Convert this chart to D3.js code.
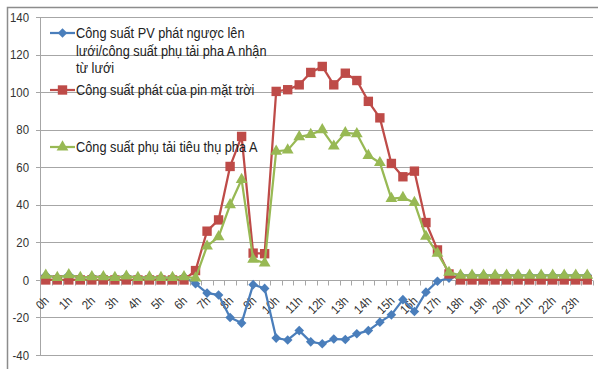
<!DOCTYPE html>
<html>
<head>
<meta charset="utf-8">
<script src="https://cdn.jsdelivr.net/npm/d3@7"></script>
<style>
  body { margin: 0; background: #fff; }
  svg { display: block; }
  text { font-family: "Liberation Sans Narrow", "Arial Narrow", "Liberation Sans", Arial, sans-serif; }
</style>
</head>
<body>
<svg id="chart" width="598" height="369"></svg>
<script>
// Half-hour slots across one day (48 readings), labelled on the hour
const hourLabels = ["0h","1h","2h","3h","4h","5h","6h","7h","8h","9h","10h","11h",
                    "12h","13h","14h","15h","16h","17h","18h","19h","20h","21h","22h","23h"];
const slots = d3.range(48);

const yTicks = [-40, -20, 0, 20, 40, 60, 80, 100, 120, 140];

// Power exchanged with the grid (negative = PV feeding back into the grid)
const gridPower = [
  2.5, 1.3, 2.7, 1.3, 1.7, 1.7, 1.3, 2.0, 1.3, 1.5, 1.3, 1.3, 1.7,
  -2, -7, -8, -20, -23, -2.5, -4.5, -31, -32, -27, -33, -34, -31.5,
  -31.7, -28.7, -27, -22.5, -18.6, -10.5, -16.8, -6.5, -0.7, 1,
  2.5, 2.5, 2.5, 2.5, 2.5, 2.5, 2.5, 2.5, 2.5, 2.5, 2.5, 2.5
];
// Solar panel output
const pvPower = [
  0, 0, 0, 0, 0, 0, 0, 0, 0, 0, 0, 0, 0,
  5, 26, 32, 60.5, 76.5, 14.3, 14, 100.5, 101.4, 104, 110.6, 113.8, 104,
  110.2, 106.3, 95.2, 86.4, 62.1, 55, 58, 30.6, 16, 3.2,
  0, 0, 0, 0, 0, 0, 0, 0, 0, 0, 0, 0
];
// Phase A load consumption
const loadPower = [
  2.5, 1.3, 2.7, 1.3, 1.7, 1.7, 1.3, 2.0, 1.3, 1.5, 1.3, 1.3, 1.7,
  1, 18, 23, 40, 53.5, 11, 9, 68.6, 69.2, 76.3, 77.5, 80, 71.3,
  78.4, 77.9, 66.3, 62.5, 43.4, 43.9, 41.2, 23.2, 14.2, 4,
  2.5, 2.5, 2.5, 2.5, 2.5, 2.5, 2.5, 2.5, 2.5, 2.5, 2.5, 2.5
];

const seriesNames = [
  ["Công suất PV phát ngược lên", "lưới/công suất phụ tải pha A nhận", "từ lưới"],
  ["Công suất phát của pin mặt trời"],
  ["Công suất phụ tải tiêu thụ pha A"]
];
const seriesColors = ["#4a7ebb", "#be4b48", "#98b954"];
const seriesValues = [gridPower, pvPower, loadPower];

// Marker shapes: diamond (rotated square), square, triangle
const markers = [
  { sym: d3.symbol().type(d3.symbolSquare).size(46), rot: 45 },
  { sym: d3.symbol().type(d3.symbolSquare).size(88), rot: 0 },
  { sym: d3.symbol().type(d3.symbolTriangle).size(60), rot: 0 }
];

const svg = d3.select("#chart");
const plot = { left: 40, right: 593, top: 17.3, bottom: 355 };

const x = d3.scaleBand().domain(slots).range([plot.left, plot.right]);
const y = d3.scaleLinear().domain([-40, 140]).range([plot.bottom, plot.top]);
const cx = i => x(i) + x.bandwidth() / 2;

// Outer chart frame (top and left edges visible)
svg.append("path")
  .attr("d", "M7.5,369 V7.5 H598")
  .attr("fill", "none").attr("stroke", "#8c8c8c").attr("stroke-width", 1.5);

// Horizontal gridlines
svg.append("g")
  .selectAll("line").data(yTicks).join("line")
  .attr("x1", plot.left - 4).attr("x2", plot.right)
  .attr("y1", d => Math.round(y(d)) + 0.5).attr("y2", d => Math.round(y(d)) + 0.5)
  .attr("stroke", "#a6a6a6").attr("stroke-width", 1);

// Value axis
svg.append("line")
  .attr("x1", plot.left + 0.5).attr("x2", plot.left + 0.5)
  .attr("y1", plot.top).attr("y2", plot.bottom)
  .attr("stroke", "#a6a6a6");
svg.append("g")
  .selectAll("text").data(yTicks).join("text")
  .attr("transform", d => `translate(29,${y(d)}) scale(0.88,1)`)
  .attr("dy", "0.35em").attr("text-anchor", "end")
  .attr("font-size", 13).attr("fill", "#333")
  .text(d => d);

// Category axis along zero
const y0 = Math.round(y(0)) + 0.5;
svg.append("line")
  .attr("x1", plot.left).attr("x2", plot.right)
  .attr("y1", y0).attr("y2", y0).attr("stroke", "#a6a6a6");
svg.append("g")
  .selectAll("line").data(slots.concat([48])).join("line")
  .attr("x1", d => Math.round(d < 48 ? x(d) : plot.right) + 0.5)
  .attr("x2", d => Math.round(d < 48 ? x(d) : plot.right) + 0.5)
  .attr("y1", y0).attr("y2", y0 + 5)
  .attr("stroke", "#a6a6a6");
svg.append("g")
  .selectAll("text").data(hourLabels).join("text")
  .attr("transform", (d, i) => `translate(${cx(i * 2) + 4},${y0 + 21}) rotate(-45) scale(0.9,1)`)
  .attr("text-anchor", "end")
  .attr("font-size", 12.5).attr("fill", "#333")
  .text(d => d);

// Series lines and markers
const line = d3.line().x((d, i) => cx(i)).y(d => y(d));
seriesValues.forEach((vals, s) => {
  const g = svg.append("g");
  g.append("path")
    .datum(vals)
    .attr("d", line)
    .attr("fill", "none")
    .attr("stroke", seriesColors[s])
    .attr("stroke-width", 2.25)
    .attr("stroke-linejoin", "round");
  g.selectAll("path.m").data(vals).join("path")
    .attr("class", "m")
    .attr("transform", (d, i) => `translate(${cx(i)},${y(d)}) rotate(${markers[s].rot})`)
    .attr("d", markers[s].sym)
    .attr("fill", seriesColors[s]);
});

// Legend
const legendRows = [33, 90, 147];
const legend = svg.append("g");
seriesNames.forEach((lines, s) => {
  const ly = legendRows[s];
  legend.append("line")
    .attr("x1", 50).attr("x2", 75).attr("y1", ly).attr("y2", ly)
    .attr("stroke", seriesColors[s]).attr("stroke-width", 2.25);
  legend.append("path")
    .attr("transform", `translate(62.5,${ly}) rotate(${markers[s].rot})`)
    .attr("d", markers[s].sym)
    .attr("fill", seriesColors[s]);
  legend.append("g")
    .attr("transform", `translate(76,${ly}) scale(0.88,1)`)
    .append("text")
    .attr("font-size", 14.5).attr("fill", "#222")
    .selectAll("tspan").data(lines).join("tspan")
    .attr("x", 0).attr("dy", (d, i) => i === 0 ? "0.35em" : "1.22em")
    .text(d => d);
});
</script>
</body>
</html>
